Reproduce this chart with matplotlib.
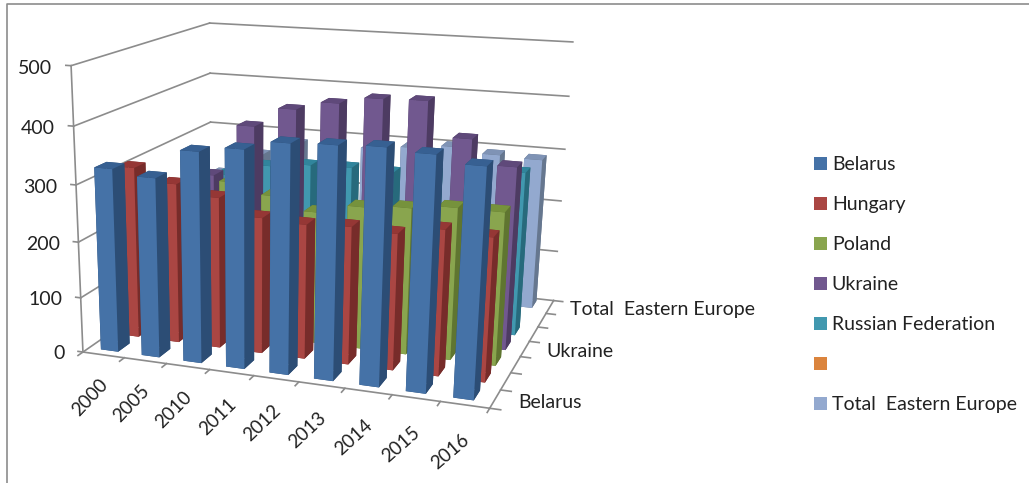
import numpy as np
import matplotlib
matplotlib.use('Agg')
import matplotlib.pyplot as plt
from matplotlib.lines import Line2D
from matplotlib.patches import Patch
from mpl_toolkits.mplot3d import Axes3D  # noqa: F401

plt.rcParams['font.family'] = ['Lato', 'DejaVu Sans']

years = ['2000', '2005', '2010', '2011', '2012', '2013', '2014', '2015', '2016']
series_names = ['Belarus', 'Hungary', 'Poland', 'Ukraine', 'Russian Federation', '', 'Total  Eastern Europe']
depth_labels = {0: 'Belarus', 3: 'Ukraine', 6: 'Total  Eastern Europe'}
z_ticks = [0, 100, 200, 300, 400, 500]

belarus = [327, 318, 369, 379, 395, 398, 401, 396, 384]
hungary = [311, 289, 272, 244, 240, 244, 240, 255, 250]
poland = [250, 250, 280, 262, 240, 257, 263, 271, 271]
ukraine = [240, 268, 364, 400, 416, 429, 431, 371, 329]
russia = [225, 250, 274, 282, 284, 282, 287, 300, 301]
blank = None
total_ee = [210, 255, 283, 280, 285, 293, 301, 292, 289]
values = [belarus, hungary, poland, ukraine, russia, blank, total_ee]

# front, side, top shades for each series
front_cols = ['#4572A7', '#AA4643', '#89A54E', '#71588F', '#4198AF', '#DB843D', '#93A9CF']
side_cols = ['#2C4D75', '#772C2A', '#5F7530', '#4D3B62', '#276A7C', '#B65708', '#66778F']
top_cols = ['#376092', '#953735', '#76923C', '#5F497A', '#31859C', '#C0681F', '#7F93B5']

# where the corners of the 3D box sit in the picture, in pixels
box_corners = [(0, 0, 0), (9, 0, 0), (9, 7, 0), (0, 0, 500), (0, 7, 500), (9, 7, 500),
               (0, 7, 400), (9, 7, 400), (0, 0, 400), (0, 0, 300), (0, 0, 100)]
box_pixels = [(83, 353), (490, 408), (553, 301), (70, 67), (210, 23), (572, 42),
              (210, 73), (570, 96), (73, 126), (78, 184), (80, 297)]


def fit_camera():
    """ Fit a projective camera to the box corners, in box units and pixels / 1000 """
    rows = []
    for (x, y, z), (u, v) in zip(box_corners, box_pixels):
        p = [x / 9, y / 7, z / 500, 1]
        u, v = u / 1000, v / 1000
        rows.append(p + [0, 0, 0, 0] + [-u * c for c in p])
        rows.append([0, 0, 0, 0] + p + [-v * c for c in p])
    cam = np.linalg.svd(np.array(rows))[2][-1].reshape(3, 4)
    if cam[2, 3] < 0:
        cam = -cam
    return cam @ np.diag([1 / 9, 1 / 7, 1 / 500, 1])


camera = fit_camera()

fig = plt.figure(figsize=(10.29, 4.83), dpi=100)
# square axes bigger than the figure, so nothing gets clipped
ax = fig.add_axes([0, -0.5652, 1, 2.1304], projection='3d')
ax.set_axis_off()
ax.patch.set_alpha(0)
ax.computed_zorder = False


def get_proj():
    """ Camera matrix going straight from data coordinates to the 2D axes coordinates """
    flip = np.array([[1000, 0, 0], [0, -1000, 483], [0, 0, 1]], dtype=float)
    to_axes = np.linalg.inv(ax.transData.get_matrix())
    cam2d = to_axes @ flip @ camera
    return np.vstack([cam2d[0], cam2d[1], [0, 0, 0, -1], cam2d[2]])


ax.get_proj = get_proj

line_col = '#8C8C8C'
line_kw = dict(color=line_col, lw=1.2, zorder=1)

for z in z_ticks:
    ax.plot([0, 0], [0, 7], [z, z], **line_kw)
    ax.plot([0, 9], [7, 7], [z, z], **line_kw)
    ax.plot([-0.12, 0], [0, 0], [z, z], **line_kw)
    ax.text(-0.45, 0, z - 7, str(z), ha='right', va='center', fontsize=14, color='#222222')

ax.plot([0, 0], [0, 0], [0, 500], **line_kw)
ax.plot([0, 9], [0, 0], [0, 0], **line_kw)
ax.plot([9, 9], [0, 7], [0, 0], **line_kw)

for i in range(len(years) + 1):
    ax.plot([i, i], [0, -0.22], [0, 0], **line_kw)
for i, year in enumerate(years):
    # zdir sets the slant of a 3D text, about 45 degrees here
    ax.text(i * 0.98 + 0.6, -0.85, -52, year, zdir=(1, 0, 90), ha='center', va='center',
            fontsize=13.5, color='#222222')

for k in range(len(series_names) + 1):
    ax.plot([9, 9.22], [k, k], [0, 0], **line_kw)
for k, name in depth_labels.items():
    ax.text(9.47, k + 0.5, 0, name, ha='left', va='center', fontsize=14, color='#222222')

bar_w = 0.42
bar_d = 0.55
order = 10
for k in range(len(series_names) - 1, -1, -1):
    if values[k] is None:
        continue
    for i, val in enumerate(values[k]):
        # bottom, top, front, back, left, right
        cols = [side_cols[k], top_cols[k], front_cols[k], side_cols[k], side_cols[k], side_cols[k]]
        # the bars sit a little left of their slot towards the right end
        ax.bar3d(i * 0.988 + 0.5 - bar_w / 2, k + 0.28, 0, bar_w, bar_d, val, color=cols,
                 shade=False, linewidth=0, zorder=order)
        order += 1

handles = [Patch(facecolor=c, edgecolor='none') for c in front_cols]
fig.legend(handles, series_names, loc='upper left', bbox_to_anchor=(0.791, 0.677), frameon=False,
           fontsize=14, handlelength=0.65, handleheight=0.65, handletextpad=0.27,
           labelspacing=1.185, labelcolor='#222222', borderpad=0, borderaxespad=0)

# the thin frame of the chart area
fig.add_artist(Line2D([7 / 1029, 7 / 1029, 1], [0, 1 - 4 / 483, 1 - 4 / 483], color='#8C8C8C', lw=1.2))

fig.savefig('out.png', dpi=100)
